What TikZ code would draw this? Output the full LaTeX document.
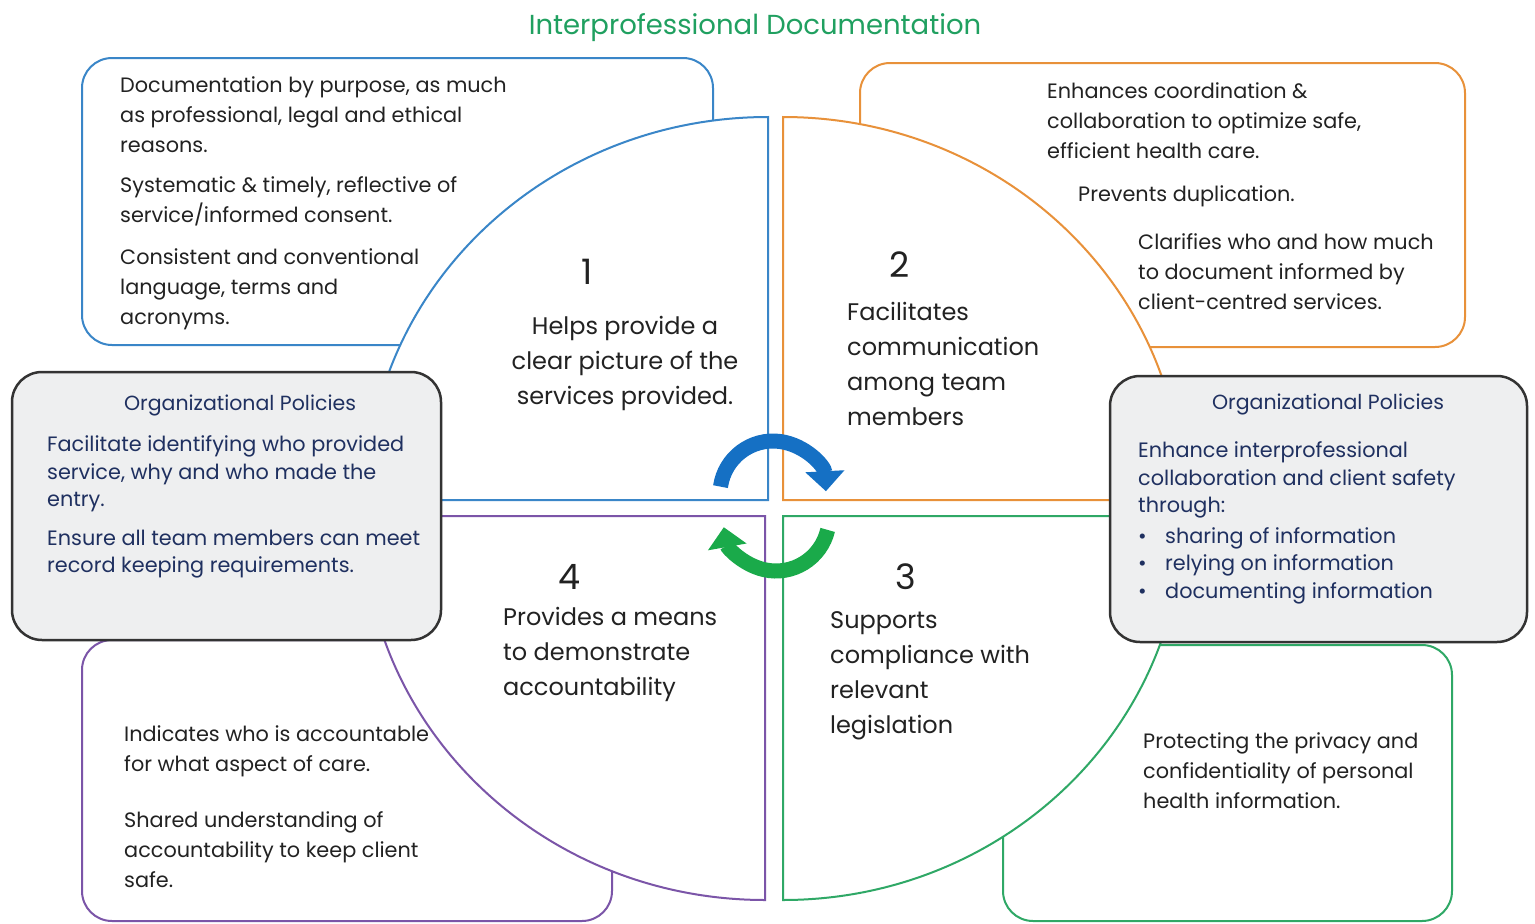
\documentclass[tikz,border=0pt]{standalone}
\usepackage{fontspec}
\setmainfont{Poppins}
\usetikzlibrary{arrows.meta}
\definecolor{qblue}{HTML}{3A86C8}
\definecolor{qorange}{HTML}{E8913A}
\definecolor{qgreen}{HTML}{2FA866}
\definecolor{qpurple}{HTML}{7B55A8}
\definecolor{polfill}{HTML}{EEEFF0}
\definecolor{poledge}{HTML}{333333}
\definecolor{navy}{HTML}{1F3060}
\definecolor{titlegreen}{HTML}{20A060}
\definecolor{arrblue}{HTML}{1570C4}
\definecolor{arrgreen}{HTML}{1AAA4A}
\definecolor{bodytext}{HTML}{222222}
\begin{document}
\begin{tikzpicture}[x=1pt,y=1pt,
  panel/.style={line width=2pt, fill=white, rounded corners=30pt},
  quad/.style={line width=2pt, fill=white},
  policy/.style={draw=poledge, line width=2.5pt, fill=polfill, rounded corners=30pt},
  ptext/.style={font=\fontsize{20.8}{30}\selectfont, align=left, inner sep=0pt, anchor=west, text=bodytext},
  qtext/.style={font=\fontsize{24}{35}\selectfont, inner sep=0pt, text=bodytext},
  num/.style={font=\fontsize{35}{40}\selectfont, inner sep=0pt, text=bodytext},
  gtitle/.style={font=\fontsize{20.5}{24}\selectfont, inner sep=0pt, text=navy},
  gtext/.style={font=\fontsize{20.8}{27.5}\selectfont, align=left, inner sep=0pt, anchor=west, text=navy},
  cycarrow/.style={line width=15pt, -{Triangle[width=38pt,length=20pt]}}
]
\useasboundingbox (0,0) rectangle (1535,-924);
\fill[white] (0,0) rectangle (1535,-924);

% background panels
\draw[panel, draw=qblue] (82,-58) rectangle (713,-345);
\draw[panel, draw=qorange] (860,-63) rectangle (1465,-347);
\draw[panel, draw=qgreen] (1003,-645) rectangle (1452,-921);
\draw[panel, draw=qpurple] (82,-640) rectangle (612,-921);

% quadrants
\draw[quad, draw=qblue] (768,-500) -- (366,-500) arc[start angle=180,end angle=90,x radius=402,y radius=383] -- cycle;
\draw[quad, draw=qorange] (783,-500) -- (783,-117) arc[start angle=90,end angle=0,x radius=400,y radius=383] -- cycle;
\draw[quad, draw=qgreen] (783,-516) -- (1183,-516) arc[start angle=0,end angle=-90,x radius=400,y radius=384] -- cycle;
\draw[quad, draw=qpurple] (765,-516) -- (765,-900) arc[start angle=-90,end angle=-180,x radius=402,y radius=384] -- cycle;

% policy boxes
\draw[policy] (12,-372) rectangle (441,-640);
\draw[policy] (1110,-376) rectangle (1527,-642);

% cycle arrows
\draw[cycarrow, arrblue] (773,-494) ++(172:53) arc[start angle=172,end angle=3,radius=53];
\draw[cycarrow, arrgreen] (776,-518) ++(-13:53) arc[start angle=-13,end angle=-170,radius=53];

% title
\node[font=\fontsize{27.5}{32}\selectfont, text=titlegreen, inner sep=0pt] (title) at (755,-28) {Interprofessional Documentation};

% blue panel text
\node[ptext] (bluetxt) at (120,-203) {Documentation by purpose, as much\\ as professional, legal and ethical\\ reasons.\\[10pt] Systematic \& timely, reflective of\\ service/informed consent.\\[12pt] Consistent and conventional\\ language, terms and\\ acronyms.};

% orange panel text
\node[ptext] (orangeA) at (1047,-121) {Enhances coordination \&\\ collaboration to optimize safe,\\ efficient health care.};
\node[ptext] (orangeB) at (1078,-196) {Prevents duplication.};
\node[ptext] (orangeC) at (1138,-272) {Clarifies who and how much\\ to document informed by\\ client-centred services.};

% quadrant texts
\node[num] (n1) at (587,-272) {1};
\node[qtext, align=center] (q1) at (625,-363) {Helps provide a\\ clear picture of the\\ services provided.};
\node[num] (n2) at (900,-265) {2};
\node[qtext, align=left, anchor=west] (q2) at (847,-364) {Facilitates\\ communication\\ among team\\ members};
\node[num] (n3) at (906,-577) {3};
\node[qtext, align=left, anchor=west] (q3) at (830,-676) {Supports\\ compliance with\\ relevant\\ legislation};
\node[num] (n4) at (570,-577) {4};
\node[qtext, align=left, anchor=west] (q4) at (503,-654) {Provides a means\\ to demonstrate\\ accountability};

% left policy text
\node[gtitle] (poltitleL) at (240,-405) {Organizational Policies};
\node[gtext] (poltextL) at (47,-507) {Facilitate identifying who provided\\ service, why and who made the\\ entry.\\[11pt] Ensure all team members can meet\\ record keeping requirements.};

% right policy text
\node[gtitle] (poltitleR) at (1328,-404) {Organizational Policies};
\node[gtext] (poltextR) at (1138,-523) {Enhance interprofessional\\ collaboration and client safety\\ through:\\[3pt]
\makebox[27pt][l]{\textbullet}sharing of information\\
\makebox[27pt][l]{\textbullet}relying on information\\
\makebox[27pt][l]{\textbullet}documenting information};

% purple panel text
\node[ptext] (purpletxt) at (124,-807) {Indicates who is accountable\\ for what aspect of care.\\[26pt] Shared understanding of\\ accountability to keep client\\ safe.};

% green panel text
\node[ptext] (greentxt) at (1143,-771) {Protecting the privacy and\\ confidentiality of personal\\ health information.};
\end{tikzpicture}
\end{document}
